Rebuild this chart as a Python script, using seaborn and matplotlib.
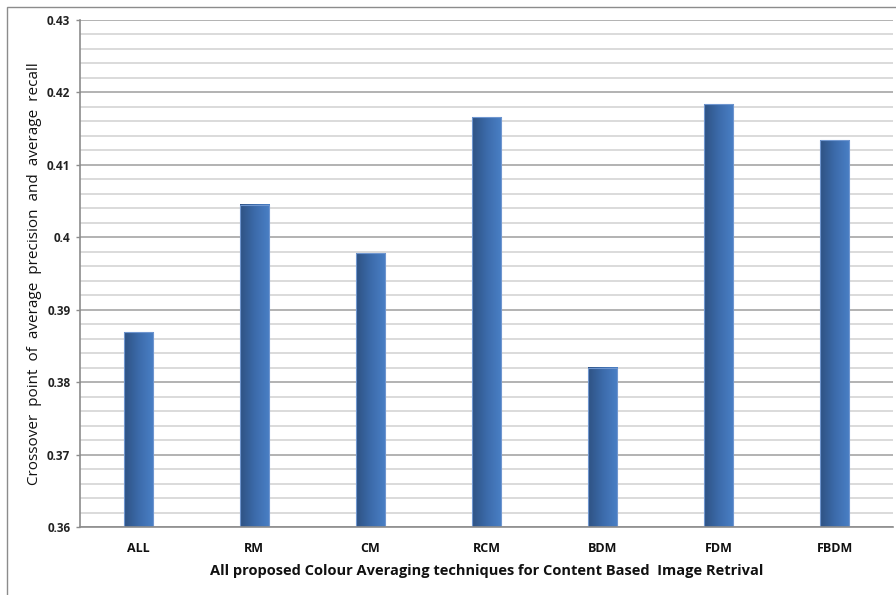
import matplotlib
matplotlib.use("Agg")
import matplotlib.pyplot as plt
import numpy as np
import pandas as pd
import seaborn as sns
from matplotlib.colors import LinearSegmentedColormap
from matplotlib.patches import Rectangle

categories = ["ALL", "RM", "CM", "RCM", "BDM", "FDM", "FBDM"]
values = [0.3869, 0.4045, 0.3978, 0.4166, 0.3820, 0.4184, 0.4134]
y_ticks = [0.36, 0.37, 0.38, 0.39, 0.40, 0.41, 0.42, 0.43]
y_tick_labels = ["0.36", "0.37", "0.38", "0.39", "0.4", "0.41", "0.42", "0.43"]

sns.set_theme(style="white")
plt.rcParams['font.family'] = ['Open Sans', 'DejaVu Sans']

df = pd.DataFrame({"cat": categories, "val": values})

fig = plt.figure(figsize=(8.96, 5.95), dpi=100)
ax = fig.add_axes([80/896, 68/595, 813/896, 507/595])

sns.barplot(data=df, x="cat", y="val", ax=ax, width=0.25, color="#3a68a8",
            edgecolor="none", zorder=3)

YMIN, YMAX = 0.36, 0.43
ax.set_ylim(YMIN, YMAX)
ax.set_xlim(-0.5, len(categories) - 0.5)

# gridlines
ax.set_yticks(y_ticks)
ax.set_yticks(np.arange(0.362, 0.43, 0.002), minor=True)
ax.yaxis.grid(True, which="major", color="#a6a6a6", linewidth=1.2, zorder=0)
ax.yaxis.grid(True, which="minor", color="#d4d4d4", linewidth=1.2, zorder=0)
ax.set_axisbelow(True)

# gradient bars
cmap = LinearSegmentedColormap.from_list("g", ["#2e5283", "#3c6bab", "#4a80c6"])
grad = np.linspace(0, 1, 256).reshape(1, -1)
for p in list(ax.patches):
    x0, y0 = p.get_x(), p.get_y()
    w, h = p.get_width(), p.get_height()
    top = y0 + h
    bottom = max(y0, YMIN)
    p.set_facecolor("none")
    ax.imshow(grad, cmap=cmap, extent=[x0, x0 + w, bottom, top],
              aspect="auto", zorder=4, interpolation="bicubic")
    ax.add_patch(Rectangle((x0, bottom), w, top - bottom, fill=False,
                           edgecolor="#6f96cf", linewidth=0.8, zorder=5))

ax.set_ylim(YMIN, YMAX)
ax.set_xlim(-0.5, len(categories) - 0.5)

ax.set_yticklabels(y_tick_labels, fontsize=8.5, fontweight="bold", color="#222222")
ax.tick_params(axis="y", which="major", left=True, length=3, width=1,
               color="#8c8c8c", pad=4)
ax.tick_params(axis="y", which="minor", left=False)
ax.tick_params(axis="x", bottom=False, pad=5)
for lbl in ax.get_xticklabels():
    lbl.set_fontsize(9)
    lbl.set_fontweight("bold")
    lbl.set_color("#111111")

for s in ["top", "right"]:
    ax.spines[s].set_visible(False)
for s in ["left", "bottom"]:
    ax.spines[s].set_color("#8c8c8c")
    ax.spines[s].set_linewidth(1.2)
    ax.spines[s].set_zorder(6)

ax.set_xlabel("All proposed Colour Averaging techniques for Content Based  Image Retrival",
              fontsize=10.5, fontweight="bold", color="#111111", labelpad=6)
ax.set_ylabel("Crossover  point  of  average  precision  and  average  recall",
              fontsize=11, color="#111111")
ax.yaxis.set_label_coords(-38/813, 0.5)

# outer chart border
fig.patches.append(Rectangle((7/896, -0.1), 1.2, (595 - 7)/595 + 0.1,
                             transform=fig.transFigure, fill=False,
                             edgecolor="#8c8c8c", linewidth=1.0))

fig.savefig("out.png", dpi=100, facecolor="white")
